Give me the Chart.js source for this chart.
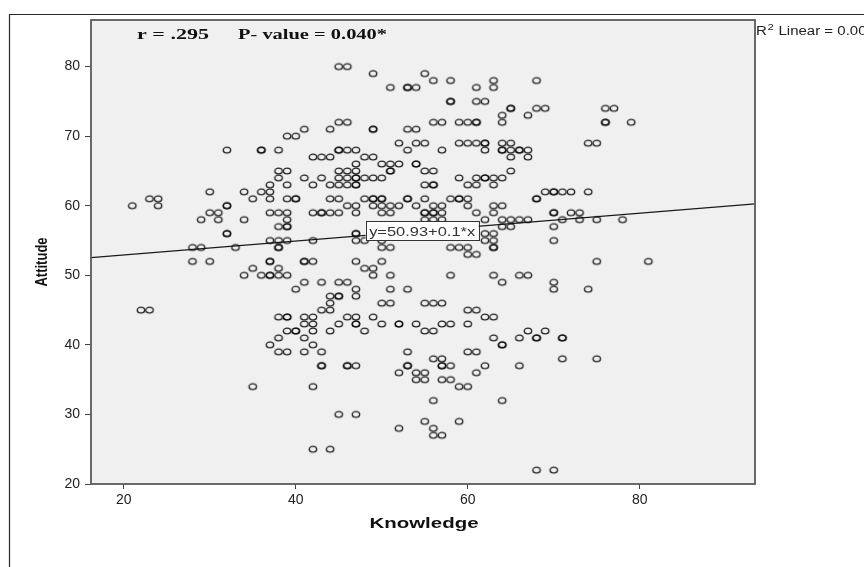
<!DOCTYPE html>
<html>
<head>
<meta charset="utf-8">
<script src="https://cdn.jsdelivr.net/npm/chart.js@4"></script>
<style>
html,body{margin:0;padding:0;background:#fff;}
#wrap{width:864px;height:567px;position:relative;}
canvas{display:block;}
</style>
</head>
<body>
<div id="wrap"><canvas id="c" width="864" height="567"></canvas></div>
<script>
// ---- data ----
const attitudeLevels = [80,79,78,77,75,74,73,72,71,70,69,68,67,66,65,64,63,62,61,60,59,58,57,56,55,54,53,52,51,50,49,48,47,46,45,44,43,42,41,40,39,38,37,36,35,34,32,30,29,28,27,25,22];
const knowledgeAtLevel = [
  [45,46],
  [49,55],
  [56,58,63,68],
  [51,53,53,54,61,63],
  [58,58,61,62],
  [65,65,68,69,76,77],
  [64,67],
  [45,46,56,57,59,60,61,61,64,76,76,79],
  [41,44,49,49,53,54],
  [39,40],
  [52,54,55,59,60,61,62,62,64,65,74,75],
  [32,36,36,38,45,45,46,47,53,57,62,64,64,65,66,66,67],
  [42,43,44,48,49,65,67],
  [47,50,51,52,54,54],
  [38,39,45,46,47,51,51,55,56,65],
  [38,41,43,45,46,47,47,48,49,50,59,61,62,62,63,64],
  [37,39,42,44,45,46,47,47,55,56,56,60,61,63],
  [30,34,36,37,69,70,70,71,72,74],
  [23,24,35,37,39,40,40,44,45,48,49,49,50,50,53,53,55,58,59,59,60,68,68],
  [21,24,32,32,46,47,49,50,51,52,54,56,57,60,63,64],
  [30,31,37,38,39,42,43,43,44,45,47,50,51,55,55,56,56,57,61,63,70,70,72,73],
  [29,31,34,39,55,56,57,62,64,65,66,67,71,73,75,78],
  [38,39,39,64,65,70],
  [32,32,47,47,62,63],
  [37,38,39,42,47,48,50,62,63,70],
  [28,29,33,38,38,50,51,58,59,60,63,63],
  [60,61],
  [28,30,37,37,41,41,42,47,50,75,81],
  [35,38,48,49],
  [34,36,37,37,38,39,49,51,58,63,66,67],
  [41,43,45,46,64,70],
  [40,47,51,53,70,74],
  [44,45,45,47],
  [44,50,51,55,56,57],
  [22,23,43,44,60,61],
  [38,39,39,41,42,46,47,49,62,63],
  [41,42,45,47,47,50,52,52,54,57,58,60],
  [39,40,40,42,44,48,55,56,67,69],
  [38,41,63,66,68,68,71,71],
  [37,42,64,64],
  [38,39,41,43,53,60,61],
  [56,57,71,75],
  [43,43,46,46,47,53,53,57,57,58,62,66],
  [52,54,55,61],
  [54,55,57,58],
  [35,42,59,60],
  [56,64],
  [45,47],
  [55,59],
  [52,56],
  [56,57],
  [42,44],
  [68,70]
];
const xTicks = [20,40,60,80];
const yTicks = [20,30,40,50,60,70,80];
const xRange = [16.2, 93.4];
const yRange = [20, 86.7];
const fitIntercept = 50.93;
const fitSlope = 0.1;
const statsLeft = 'r = .295';
const statsRight = 'P- value = 0.040*';
const fitLabel = 'y=50.93+0.1*x';
const fitLabelAt = [54.7, 56.4];
const r2Text = ' Linear = 0.00';
const xTitle = 'Knowledge';
const yTitle = 'Attitude';

// ---- build points ----
const points = [];
attitudeLevels.forEach((a, i) => {
  knowledgeAtLevel[i].forEach(k => points.push({x: k, y: a}));
});
const fitLine = xRange.map(x => ({x: x, y: fitIntercept + fitSlope * x}));

// open marker, slightly wider than tall as in the picture
const dot = document.createElement('canvas');
dot.width = 12; dot.height = 10;
(function(){
  const g = dot.getContext('2d');
  g.strokeStyle = 'rgba(15,15,15,0.9)';
  g.lineWidth = 1.4;
  g.beginPath();
  g.ellipse(6, 5, 3.7, 2.85, 0, 0, Math.PI * 2);
  g.stroke();
})();

const SANS = '"Liberation Sans", Arial, sans-serif';
const SERIF = '"Liberation Serif", "Times New Roman", serif';

function stretchText(ctx, text, x, y, font, width, align) {
  ctx.save();
  ctx.font = font;
  const w = ctx.measureText(text).width;
  const s = width ? width / w : 1;
  ctx.translate(x, y);
  ctx.scale(s, 1);
  ctx.textAlign = 'left';
  ctx.fillText(text, align === 'center' ? -w / 2 : 0, 0);
  ctx.restore();
}

const decor = {
  id: 'decor',
  beforeDraw(chart) {
    const ctx = chart.ctx, a = chart.chartArea;
    ctx.save();
    ctx.fillStyle = '#ffffff';
    ctx.fillRect(0, 0, chart.width, chart.height);
    ctx.strokeStyle = '#2a2a2a';
    ctx.lineWidth = 1.2;
    ctx.beginPath();
    ctx.moveTo(9.5, chart.height);
    ctx.lineTo(9.5, 14.5);
    ctx.lineTo(chart.width, 14.5);
    ctx.stroke();
    ctx.fillStyle = '#f0f0f0';
    ctx.fillRect(a.left, a.top, a.right - a.left, a.bottom - a.top);
    ctx.restore();
  },
  afterDatasetsDraw(chart) {
    const ctx = chart.ctx, a = chart.chartArea;
    const xs = chart.scales.x, ys = chart.scales.y;
    ctx.save();
    const cx = xs.getPixelForValue(fitLabelAt[0]);
    const cy = ys.getPixelForValue(fitLabelAt[1]);
    const bw = 113, bh = 19;
    ctx.fillStyle = '#ffffff';
    ctx.fillRect(cx - bw / 2, cy - bh / 2, bw, bh);
    ctx.strokeStyle = '#333';
    ctx.lineWidth = 1;
    ctx.strokeRect(Math.round(cx - bw / 2) + 0.5, Math.round(cy - bh / 2) + 0.5, bw, bh);
    ctx.fillStyle = '#333';
    ctx.textBaseline = 'alphabetic';
    stretchText(ctx, fitLabel, cx, cy + 5, '13px ' + SANS, 106, 'center');
    ctx.strokeStyle = '#5a5a5a';
    ctx.lineWidth = 1.8;
    ctx.strokeRect(a.left, a.top, a.right - a.left, a.bottom - a.top);
    ctx.restore();
  },
  afterDraw(chart) {
    const ctx = chart.ctx, a = chart.chartArea;
    ctx.save();
    ctx.fillStyle = '#111';
    ctx.textBaseline = 'alphabetic';
    stretchText(ctx, statsLeft, 137, 39, 'bold 15px ' + SERIF, 72);
    stretchText(ctx, statsRight, 238, 39, 'bold 15px ' + SERIF, 149);
    ctx.fillStyle = '#222';
    ctx.save();
    ctx.translate(a.right + 1, 34.5);
    ctx.scale(1.25, 1);
    ctx.font = '12px ' + SANS;
    ctx.fillText('R', 0, 0);
    const rw = ctx.measureText('R').width;
    ctx.font = '9px ' + SANS;
    ctx.fillText('2', rw + 0.5, -5);
    const sw = ctx.measureText('2').width;
    ctx.font = '12px ' + SANS;
    ctx.fillText(r2Text, rw + sw + 1, 0);
    ctx.restore();
    ctx.fillStyle = '#111';
    stretchText(ctx, xTitle, 424, 528, 'bold 14px ' + SANS, 109, 'center');
    ctx.save();
    ctx.translate(42, 262);
    ctx.scale(1.3, 1);
    ctx.rotate(-Math.PI / 2);
    ctx.font = 'bold 13px ' + SANS;
    ctx.textAlign = 'center';
    ctx.textBaseline = 'middle';
    ctx.fillText(yTitle, 0, 0);
    ctx.restore();
    ctx.restore();
  }
};

new Chart(document.getElementById('c'), {
  type: 'scatter',
  data: {
    datasets: [
      {
        label: 'points',
        data: points,
        pointStyle: dot,
        pointRadius: 4,
        pointHoverRadius: 4
      },
      {
        type: 'line',
        label: 'fit',
        data: fitLine,
        borderColor: '#1a1a1a',
        borderWidth: 1.3,
        pointRadius: 0,
        fill: false,
        tension: 0
      }
    ]
  },
  options: {
    responsive: false,
    animation: false,
    devicePixelRatio: 1,
    layout: {padding: {left: 0, top: 20, right: 109, bottom: 0}},
    plugins: {legend: {display: false}, tooltip: {enabled: false}},
    scales: {
      x: {
        type: 'linear',
        min: xRange[0], max: xRange[1],
        afterBuildTicks: s => { s.ticks = xTicks.map(v => ({value: v})); },
        afterFit: s => { s.height = 83; },
        ticks: {font: {family: SANS, size: 14}, color: '#222', padding: 3, maxRotation: 0, autoSkip: false},
        grid: {display: true, drawOnChartArea: false, drawTicks: true, tickLength: 5, color: '#444', lineWidth: 1},
        border: {display: false},
        title: {display: false}
      },
      y: {
        type: 'linear',
        min: yRange[0], max: yRange[1],
        afterBuildTicks: s => { s.ticks = yTicks.map(v => ({value: v})); },
        afterFit: s => { s.width = 91; },
        ticks: {font: {family: SANS, size: 14}, color: '#222', padding: 5, autoSkip: false},
        grid: {display: true, drawOnChartArea: false, drawTicks: true, tickLength: 6, color: '#444', lineWidth: 1},
        border: {display: false},
        title: {display: false}
      }
    }
  },
  plugins: [decor]
});
</script>
</body>
</html>
